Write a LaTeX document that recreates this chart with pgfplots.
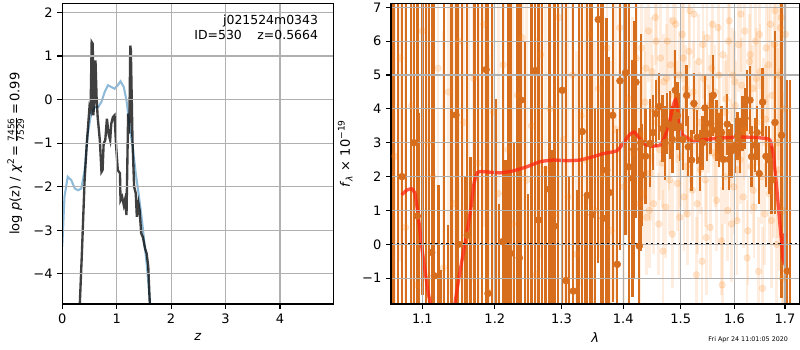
\documentclass[border=0pt]{standalone}
\usepackage{fontspec}
\setmainfont{DejaVu Sans}
\usepackage{pgfplots}
\usepackage{pgfplotstable}
\pgfplotsset{compat=1.18}
\definecolor{tabblue}{HTML}{1F77B4}
\definecolor{taborange}{HTML}{FF7F0E}
\definecolor{darkor}{RGB}{215,110,30}
\definecolor{gridgray}{HTML}{B0B0B0}
\definecolor{modelred}{RGB}{255,35,15}

% p(z) curves
\pgfplotstableread{
z lp
0.00 -3.37
0.04 -2.23
0.10 -1.77
0.166 -1.85
0.23 -2.04
0.29 -2.08
0.35 -2.04
0.41 -1.62
0.47 -0.78
0.53 -0.32
0.60 -0.17
0.66 -0.17
0.72 -0.05
0.78 0.18
0.84 0.33
0.90 0.29
0.96 0.25
1.02 0.33
1.07 0.42
1.13 0.29
1.18 -0.02
1.24 -0.63
1.30 -1.16
1.35 -1.69
1.41 -2.23
1.47 -2.84
1.55 -3.76
1.62 -4.75
}\pzblue

\pgfplotstableread{
z lp
0.32 -4.75
0.36 -3.53
0.41 -1.85
0.45 -1.01
0.50 -0.17
0.52 -0.24
0.54 1.32
0.56 1.28
0.57 -0.36
0.59 -0.02
0.61 0.90
0.63 0.06
0.65 -0.40
0.69 -0.93
0.72 -1.66
0.74 -1.62
0.76 -1.01
0.79 -0.93
0.82 -0.44
0.85 -0.78
0.88 -0.93
0.90 -0.55
0.93 -0.40
0.96 -0.36
0.99 -1.08
1.02 -1.62
1.06 -1.69
1.07 -2.31
1.10 -2.23
1.13 -2.42
1.15 -2.31
1.18 -2.65
1.21 -0.32
1.23 -0.78
1.25 1.24
1.26 1.13
1.29 -0.93
1.32 -2.00
1.35 -2.15
1.37 -2.69
1.40 -2.38
1.42 -2.53
1.45 -3.07
1.48 -3.15
1.52 -3.41
1.55 -3.53
1.58 -3.83
1.61 -4.75
}\pzblack

% binned spectrum, large errors (blue side)
\pgfplotstableread{
lam y ey
1.0625 9 12
1.0680 -3 11
1.0735 2 9
1.0790 10 13
1.0850 -4 12
1.0890 3 9
1.0934 0.84 9
1.0960 -2.2 6.07
1.1000 9 10.5
1.1050 10 14
1.1090 -3 11
1.1124 -0.24 9
1.1159 -0.93 9
1.1213 -3 4.75
1.1249 -3 2.24
1.1290 9 12
1.1341 -3 3.57
1.1390 9 12
1.1453 3.82 9
1.1485 0.0 9
1.1535 9 12
1.1575 -3 5
1.1610 0.27 9
1.1653 -3 5.59
1.1710 9 12
1.1760 -3 11
1.1820 8 11
1.1874 5.16 9
1.1902 -1.45 9
1.1960 9 12
1.2010 -3 7.3
1.2060 -3 4.2
1.2114 0.08 9
1.2155 -3 5.5
1.2196 0.69 9
1.2225 -0.27 9
1.2280 -3 6
1.2325 9 12
1.2358 -0.40 9
1.2383 4.26 9
1.2440 -3 9
1.2490 -3 4.5
1.2540 9 12
1.2597 5.13 9
1.2643 0.72 9
1.2700 9 12
1.2750 -3 5.3
1.2811 1.63 9
1.2850 -3 5.8
1.2888 0.54 9
1.2945 9 12
1.3012 4.55 9
1.3070 -1.07 9
1.3120 -3 5
1.3185 -1.38 9
1.3240 -3 4.6
1.3280 9 12
1.3328 3.33 9
1.3368 -3 4.5
1.3408 1.45 9
1.3450 9 12
1.3489 0.87 9
1.3535 -3 7
1.3587 6.64 7.2
1.3630 9 12
1.3668 0.77 8
1.3724 2.19 4.5
1.3767 1.53 4
1.3824 3.81 5.5
1.3900 -0.59 4
1.3945 4.83 5
1.4041 5.07 4.8
1.4092 2.29 4.8
1.4159 1.95 3.5
1.4181 2.81 3.8
1.4216 4.79 4.0
1.4272 -0.05 3.5
1.4300 3 3.2
}\darkA

% binned spectrum, red side
\pgfplotstableread{
lam y ey
1.4323 2.05 1.5
1.4380 2.6 1.4
1.4456 2.98 1.3
1.4510 3.3 1.1
1.4561 3.86 1.0
1.4619 4.07 1.0
1.4678 3.42 1.0
1.4720 3.0 1.1
1.4754 3.57 0.9
1.4807 3.52 1.0
1.4850 3.1 1.0
1.4902 4.55 1.2
1.4940 3.8 1.0
1.4986 3.47 1.0
1.5040 3.1 0.9
1.5107 4.40 0.9
1.5137 2.88 0.9
1.5198 2.49 0.9
1.5240 4.16 0.9
1.5301 3.16 0.8
1.5350 2.49 0.9
1.5400 3.0 0.8
1.5443 4.03 1.0
1.5486 3.27 0.8
1.5549 3.57 0.9
1.5597 4.40 1.2
1.5661 3.37 0.9
1.5710 3.08 0.8
1.5750 3.3 0.8
1.5786 2.51 0.9
1.5862 3.55 0.9
1.5900 2.51 0.9
1.5946 2.76 0.8
1.6009 2.92 0.8
1.6060 3.2 0.7
1.6106 2.92 0.8
1.6158 3.57 0.8
1.6203 3.72 0.9
1.6247 4.26 0.9
1.6300 4.26 1.0
1.6333 2.59 0.9
1.6398 2.93 0.8
1.6440 3.3 0.8
1.6483 2.09 0.9
1.6550 4.20 1.0
1.6616 2.60 0.9
1.6682 2.49 1.0
1.6730 1.90 1.0
1.6797 3.6 2.7
1.6932 3.22 4.8
1.7047 -0.79 5.64
1.7102 -2.5 7.35
}\darkB

% individual beam points (faint)
\pgfplotstableread{
lam y ey
1.064 2.6 7
1.071 5.5 6
1.078 0.5 7
1.086 4.1 6
1.093 -1.2 7
1.100 6.3 6
1.107 3.0 6
1.114 2.0 7
1.121 5.2 6
1.128 -0.7 7
1.135 4.5 6
1.142 1.2 7
1.149 6.0 6
1.156 3.6 6
1.163 0.2 7
1.170 4.9 6
1.177 2.4 6
1.184 6.5 6
1.191 -1.4 7
1.198 3.9 6
1.205 1.5 6
1.212 5.3 6
1.219 2.8 6
1.226 0.6 7
1.233 4.4 6
1.240 6.1 6
1.247 1.9 6
1.254 3.5 6
1.261 -0.9 7
1.268 5.6 6
1.275 2.2 6
1.282 4.0 6
1.289 0.9 6
1.296 6.7 6
1.303 3.1 6
1.310 1.4 6
1.317 5.0 6
1.324 -0.3 6
1.331 3.8 5
1.338 2.5 5
1.345 6.2 5
1.352 1.0 5
1.359 4.6 5
1.366 2.0 5
1.373 5.8 5
1.380 0.4 5
1.387 3.4 5
1.394 6.4 4
1.401 1.7 4
1.408 4.3 4
1.415 2.7 4
1.422 5.5 3.5
1.428 1.2 3.5
1.431 5.8 1.8
1.434 1.5 1.6
1.437 4.2 1.5
1.440 0.8 1.7
1.443 6.3 1.5
1.446 2.1 1.4
1.449 5.1 1.6
1.452 1.2 1.5
1.455 6.7 1.4
1.458 3.6 1.3
1.461 0.6 1.5
1.464 5.5 1.6
1.467 2.4 1.3
1.470 4.8 1.4
1.473 1.1 1.5
1.476 6.0 1.5
1.479 2.9 1.3
1.482 5.3 1.4
1.485 0.3 1.6
1.488 4.4 1.3
1.491 6.5 1.5
1.494 1.8 1.4
1.497 5.0 1.3
1.500 2.6 1.5
1.503 6.2 1.4
1.506 1.4 1.6
1.509 4.6 1.3
1.512 0.9 1.5
1.515 5.7 1.4
1.518 3.1 1.3
1.521 1.6 1.5
1.524 6.8 1.3
1.527 4.0 1.4
1.530 1.2 1.5
1.533 5.4 1.4
1.536 2.2 1.3
1.539 -0.5 1.6
1.542 4.9 1.4
1.545 1.9 1.4
1.548 6.1 1.5
1.551 3.4 1.3
1.554 0.5 1.5
1.557 5.2 1.4
1.560 2.7 1.3
1.563 4.5 1.4
1.566 1.3 1.5
1.569 6.4 1.4
1.572 3.8 1.3
1.575 0.1 1.6
1.578 5.6 1.4
1.581 2.0 1.4
1.584 4.3 1.3
1.587 1.0 1.5
1.590 6.6 1.5
1.593 3.0 1.3
1.596 5.0 1.4
1.599 1.7 1.4
1.602 4.1 1.3
1.605 0.7 1.6
1.608 5.9 1.4
1.611 2.5 1.3
1.614 4.7 1.4
1.617 1.4 1.5
1.620 6.3 1.4
1.623 3.3 1.3
1.626 0.4 1.6
1.629 5.4 1.4
1.632 2.3 1.4
1.635 4.6 1.3
1.638 1.1 1.5
1.641 6.0 1.5
1.644 3.6 1.3
1.647 -0.8 1.6
1.650 5.1 1.4
1.653 2.0 1.4
1.656 4.2 1.3
1.659 0.9 1.5
1.662 5.8 1.6
1.665 3.0 1.4
1.668 1.5 1.5
1.671 6.5 1.6
1.674 4.4 1.6
1.677 1.9 1.7
1.680 6.9 2.0
1.683 0.0 2.2
1.686 5.0 2.5
1.689 2.2 3.0
1.692 6.7 3.0
1.695 -1.0 3.0
1.698 4.0 3.5
1.701 6.2 3.5
1.4325 3.2 1.9
1.4385 5.2 1.8
1.4445 1.0 1.7
1.4505 4.0 1.6
1.4565 6.0 1.7
1.4625 2.8 1.5
1.4685 -0.2 1.8
1.4745 4.9 1.6
1.4805 1.9 1.6
1.4865 6.6 1.7
1.4925 3.9 1.5
1.4985 0.8 1.8
1.5045 5.5 1.6
1.5105 2.3 1.5
1.5165 6.9 1.7
1.5225 4.5 1.5
1.5285 -0.9 1.7
1.5345 3.6 1.5
1.5405 5.9 1.6
1.5465 0.2 1.7
1.5525 4.1 1.5
1.5585 6.5 1.6
1.5645 2.6 1.5
1.5705 5.0 1.5
1.5765 -1.2 1.8
1.5825 3.9 1.5
1.5885 6.0 1.6
1.5945 0.6 1.7
1.6005 4.8 1.5
1.6065 2.2 1.5
1.6125 6.8 1.7
1.6185 3.4 1.5
1.6245 -0.4 1.7
1.6305 5.6 1.6
1.6365 1.6 1.6
1.6425 4.9 1.5
1.6485 6.2 1.6
1.6545 -1.3 1.8
1.6605 3.7 1.6
1.6665 5.3 1.7
1.6725 0.7 2.0
1.6785 5.9 2.4
1.6845 3.0 2.8
1.6905 6.4 3.2
1.6965 1.0 3.5
}\faint

% model
\pgfplotstableread{
lam f
1.0731 1.46
1.0796 1.60
1.0860 1.64
1.0904 1.50
1.0947 0.82
1.0992 -0.07
1.1035 -0.76
1.1079 -1.45
1.1124 -1.90
1.1236 -3.0
1.1371 -3.5
1.1420 -2.6
1.1440 -1.76
1.1509 -0.80
1.1602 0.32
1.1662 1.10
1.1704 1.80
1.1750 2.12
1.1788 2.15
1.1884 2.14
1.2075 2.11
1.2269 2.17
1.2468 2.29
1.2669 2.44
1.2872 2.49
1.3081 2.47
1.3292 2.49
1.3506 2.59
1.3668 2.68
1.3890 2.76
1.4000 2.98
1.4102 3.23
1.4181 3.32
1.4255 3.18
1.4370 2.96
1.4486 2.90
1.4631 2.93
1.4719 3.18
1.4807 3.67
1.4867 4.11
1.4909 4.28
1.4956 3.86
1.5017 3.27
1.5107 3.16
1.5228 3.03
1.5350 3.08
1.5597 3.12
1.5851 3.15
1.6106 3.17
1.6365 3.16
1.6596 3.13
1.6696 3.08
1.6762 2.68
1.6831 1.70
1.6884 0.82
1.6932 0.03
1.6965 -0.46
1.6999 0.32
}\model

\begin{document}
\begin{tikzpicture}
\useasboundingbox (0,0) rectangle (578.16pt,252.95pt);
\pgfplotsset{
  myaxis/.style={
    scale only axis,
    anchor=south west,
    axis on top,
    grid=major,
    major grid style={gridgray, line width=0.8pt},
    axis line style={line width=0.8pt, black},
    tick align=outside,
    tick pos=left,
    major tick length=3.5pt,
    every tick/.style={black, line width=0.8pt},
    tick label style={font=\fontsize{9.4}{11}\selectfont},
    label style={font=\fontsize{9.4}{11}\selectfont},
    clip=true,
  }
}
\begin{axis}[myaxis,
  at={(45.02pt,33.24pt)},
  width=195.85pt, height=217.3pt,
  xmin=0, xmax=4.98, ymin=-4.69, ymax=2.21,
  xtick={0,1,2,3,4}, xticklabels={0,1,2,3,4},
  ytick={-4,-3,-2,-1,0,1,2}, yticklabels={−4,−3,−2,−1,0,1,2},
  xlabel={\textit{z}},
  ylabel={log \textit{p}(z) / \textit{χ}\textsuperscript{2}\,=\,$\frac{\hbox{\fontsize{6.5}{7}\selectfont 7456}}{\hbox{\fontsize{6.5}{7}\selectfont 7529}}$\,=\,0.99},
]
\addplot[tabblue, opacity=0.5, line width=1.5pt] table[x=z, y=lp] {\pzblue};
\addplot[black, opacity=0.75, line width=1.7pt] table[x=z, y=lp] {\pzblack};
\end{axis}

\begin{axis}[myaxis,
  at={(282.58pt,33.24pt)},
  width=295.08pt, height=217.3pt,
  xmode=log,
  xmin=1.0594, xmax=1.7295, ymin=-1.762, ymax=7.118,
  xtick={1.1,1.2,1.3,1.4,1.5,1.6,1.7},
  xticklabels={1.1,1.2,1.3,1.4,1.5,1.6,1.7},
  xminorticks=false,
  ytick={-1,0,1,2,3,4,5,6,7}, yticklabels={−1,0,1,2,3,4,5,6,7},
  xlabel={\textit{λ}},
  ylabel={\textit{f}\textsubscript{\textit{λ}} × 10\textsuperscript{−19}},
]
% faint individual points
\addplot[taborange, only marks, mark=*, mark size=2.4pt,
  mark options={fill=taborange, draw=taborange, opacity=0.18},
  error bars/.cd, y dir=both, y explicit, error mark=none,
  error bar style={line width=2.0pt, color=taborange, opacity=0.13}]
  table[x=lam, y=y, y error=ey] {\faint};
% binned spectrum
\addplot[darkor, only marks, mark=*, mark size=2.5pt,
  mark options={fill=darkor, draw=darkor},
  error bars/.cd, y dir=both, y explicit, error mark=none,
  error bar style={line width=1.7pt, color=darkor}]
  table[x=lam, y=y, y error=ey] {\darkA};
\addplot[darkor, only marks, mark=*, mark size=2.5pt,
  mark options={fill=darkor, draw=darkor},
  error bars/.cd, y dir=both, y explicit, error mark=none,
  error bar style={line width=1.7pt, color=darkor}]
  table[x=lam, y=y, y error=ey] {\darkB};
% model
\addplot[modelred, opacity=0.75, line width=2.4pt, smooth, tension=0.3] table[x=lam, y=f] {\model};
% zero line
\addplot[black, line width=1.6pt, dash pattern=on 1.6pt off 2.4pt] coordinates {(1.0594,0) (1.7295,0)};
\end{axis}

\node[anchor=east, font=\fontsize{9}{11}\selectfont, inner sep=0pt] at (230.0pt,238.0pt) {j021524m0343};
\node[anchor=east, font=\fontsize{9}{11}\selectfont, inner sep=0pt] at (230.0pt,227.6pt) {ID=530\hspace{1.25em}z=0.5664};
\node[anchor=east, font=\fontsize{4.6}{5}\selectfont, inner sep=0pt] at (569.7pt,7.7pt) {Fri Apr 24 11:01:05 2020};
\end{tikzpicture}
\end{document}
